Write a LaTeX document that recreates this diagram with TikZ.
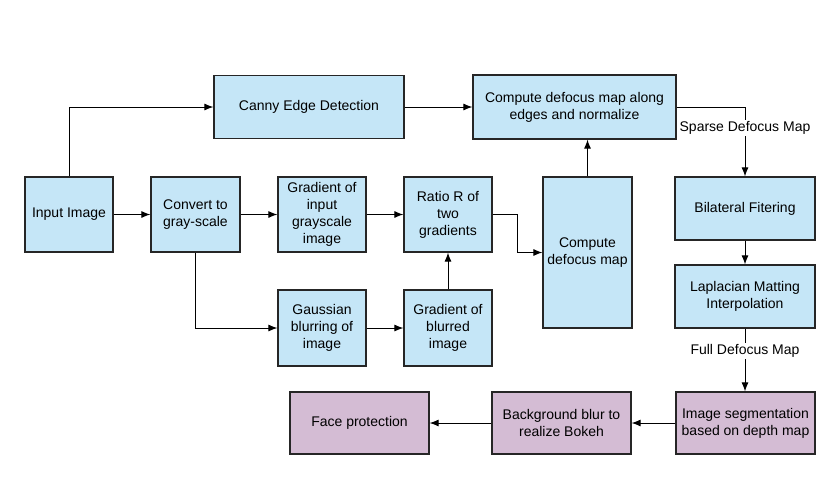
\documentclass[tikz,border=0pt]{standalone}
\usepackage{fontspec}
\setmainfont{Liberation Sans}
\usetikzlibrary{arrows.meta}
\definecolor{boxblue}{HTML}{C5E6F7}
\definecolor{boxpurple}{HTML}{D4BCD4}
\begin{document}
\begin{tikzpicture}[x=1pt,y=-1pt,
  every node/.style={font=\fontsize{14}{17}\selectfont},
  blk/.style={draw=black!85, line width=1.2pt, fill=boxblue, align=center, inner sep=2pt},
  pblk/.style={blk, fill=boxpurple},
  arr/.style={draw=black, line width=1pt, -{Latex[length=9pt,width=7pt]}},
  lbl/.style={fill=white, inner sep=1.5pt}]
\useasboundingbox (0,0) rectangle (840,480);
\fill[white] (0,0) rectangle (840,480);
% top row
\node[blk, minimum width=190, minimum height=63] (canny) at (309,107) {Canny Edge Detection};
\node[blk, minimum width=203, minimum height=64] (edges) at (574.5,107) {Compute defocus map along\\edges and normalize};
% middle row
\node[blk, minimum width=88, minimum height=75] (input) at (69,214.5) {Input Image};
\node[blk, minimum width=89, minimum height=75] (conv) at (195.5,214.5) {Convert to\\gray-scale};
\node[blk, minimum width=88, minimum height=75] (gradin) at (322,214.5) {Gradient of\\input\\grayscale\\image};
\node[blk, minimum width=88, minimum height=75] (ratio) at (448,214.5) {Ratio R of\\two\\gradients};
\node[blk, minimum width=89, minimum height=151] (cdm) at (587.5,252.5) {Compute\\defocus map};
\node[blk, minimum width=140, minimum height=63] (bilat) at (745,208.5) {Bilateral Fitering};
\node[blk, minimum width=140, minimum height=63] (lap) at (745,296.5) {Laplacian Matting\\Interpolation};
% lower row
\node[blk, minimum width=88, minimum height=76] (gauss) at (322,328) {Gaussian\\blurring of\\image};
\node[blk, minimum width=88, minimum height=76] (gradbl) at (448,328) {Gradient of\\blurred\\image};
% bottom row
\node[pblk, minimum width=139, minimum height=62] (seg) at (745.5,423) {Image segmentation\\based on depth map};
\node[pblk, minimum width=139, minimum height=62] (bg) at (561.5,423) {Background blur to\\realize Bokeh};
\node[pblk, minimum width=139, minimum height=62] (face) at (359.5,423) {Face protection};
% connectors
\draw[arr] (input.north) |- (canny.west);
\draw[arr] (input.east) -- (conv.west);
\draw[arr] (conv.east) -- (gradin.west);
\draw[arr] (conv.south) |- (gauss.west);
\draw[arr] (gradin.east) -- (ratio.west);
\draw[arr] (gauss.east) -- (gradbl.west);
\draw[arr] (gradbl.north) -- (ratio.south);
\draw[arr] (ratio.east) -- ++(25,0) |- (cdm.west);
\draw[arr] (cdm.north) -- (cdm.north |- edges.south);
\draw[arr] (canny.east) -- (edges.west);
\draw[arr] (edges.east) -| node[lbl, pos=0.65] (sparse) {Sparse Defocus Map} (bilat.north);
\draw[arr] (bilat.south) -- (lap.south |- lap.north);
\draw[arr] (lap.south) -- node[lbl, pos=0.36] (full) {Full Defocus Map} (lap.south |- seg.north);
\draw[arr] (seg.west) -- (bg.east);
\draw[arr] (bg.west) -- (face.east);
\end{tikzpicture}
\end{document}
